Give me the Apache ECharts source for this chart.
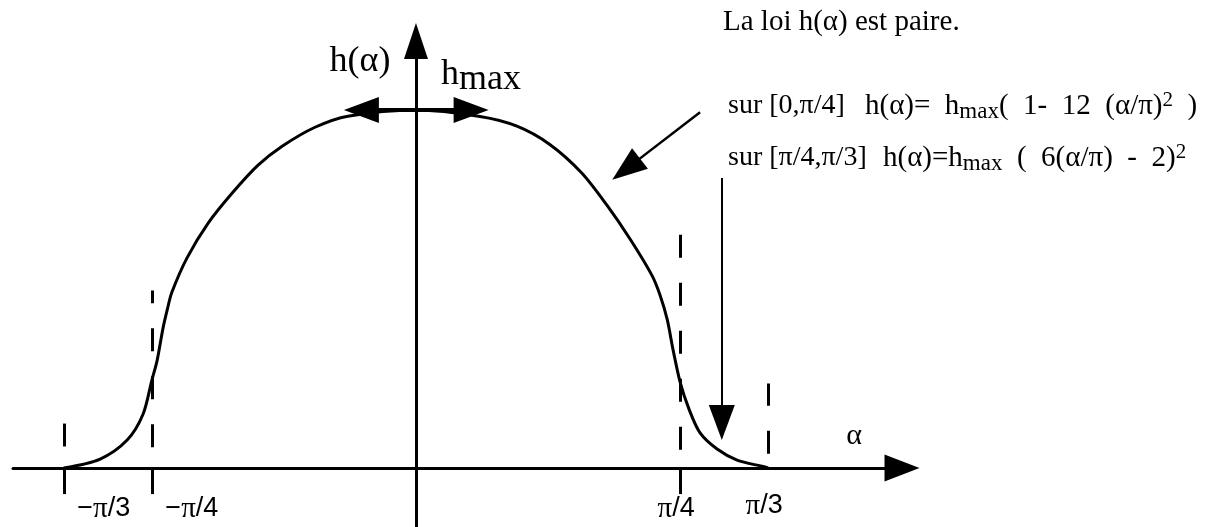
<!DOCTYPE html>
<html>
<head>
<meta charset="utf-8">
<script src="https://cdn.jsdelivr.net/npm/echarts@6/dist/echarts.min.js"></script>
<style>
  html, body { margin: 0; padding: 0; background: #fff; }
  #chart { width: 1206px; height: 527px; }
</style>
</head>
<body>
<div id="chart"></div>
<script>
// Profile h(α) of the cam law, α in degrees (−60 = −π/3, 60 = π/3), h as a fraction of hmax
const alphaDeg = [-60, -53.8, -49.2, -46.5, -45, -44.1, -43.1, -42.4, -41.6, -39, -35.4, -31.3, -26.9, -22.8, -17.2, -11.6, 0,
                  10.9, 17.2, 22.8, 28.2, 32.5, 36.5, 40.2, 41.6, 42.8, 43.8, 45, 46.5, 48.4, 51.3, 54.7, 59.1, 60];
const hRatio   = [0, 0.025, 0.078, 0.15, 0.245, 0.30, 0.39, 0.44, 0.49, 0.587, 0.684, 0.768, 0.846, 0.899, 0.952, 0.983, 1.0,
                  0.982, 0.955, 0.904, 0.825, 0.735, 0.639, 0.538, 0.482, 0.415, 0.33, 0.24, 0.165, 0.098, 0.053, 0.022, 0.004, 0];

// Marks on the α axis
const tickAlpha  = [-60, -45, 45];
const labelAlpha = [-60, -45, 45, 60];
const labelText  = ['−π/3', '−π/4', 'π/4', 'π/3'];

// Dashed guides above ±π/4 and ±π/3 (h range of each guide)
const guideAlpha = [-60, -45, 45, 60];
const guideFrom  = [0.06, 0.058, 0.051, 0.04];
const guideTo    = [0.124, 0.496, 0.658, 0.236];

// Annotation arrows, [α, h] of start and end
const hmaxArrow = [[-9.3, 1.0], [9.4, 1.0]];
const arrowLaw1 = [[48.4, 0.994], [35.8, 0.835]];
const arrowLaw2 = [[52.1, 0.81], [52.1, 0.127]];

const SERIF = '"Liberation Serif", "Times New Roman", serif';
const SANS = '"Liberation Sans", Arial, sans-serif';
const TICK_DEPTH = 0.073;   // tick length below the α axis, in h units

const chart = echarts.init(document.getElementById('chart'), null, { renderer: 'canvas' });

const curve = alphaDeg.map((a, i) => [a, hRatio[i]]);
const guides = guideAlpha.map((a, i) => [{ coord: [a, guideFrom[i]] }, { coord: [a, guideTo[i]] }]);
const ticks = tickAlpha.map(a => [{ coord: [a, 0] }, { coord: [a, -TICK_DEPTH] }]);
const tickLabels = labelAlpha.map((a, i) => ({
  name: labelText[i], coord: [a, 0],
  label: { offset: [a < 0 ? 40 : -4, a === 60 ? 38 : 41] }
}));

function piLabel(p) {
  const parts = p.name.split('π');
  return '{s|' + parts[0] + '}{p|π}{s|' + parts[1] + '}';
}

const sub = { fontSize: 23, fontFamily: SERIF, padding: [12, 0, 0, 0] };
const sup = { fontSize: 21, fontFamily: SERIF, padding: [0, 0, 12, 0] };
const richSub = { rich: { sub: sub, sup: sup } };

function txt(x, y, text, size, extra) {
  return {
    type: 'text', x: x, y: y, silent: true,
    style: Object.assign({ text: text, fill: '#000', font: size + 'px ' + SERIF, align: 'left', verticalAlign: 'middle' }, extra || {})
  };
}

chart.setOption({
  animation: false,
  backgroundColor: '#fff',
  grid: { left: 13, right: 304, top: 41, bottom: 0, containLabel: false, outerBoundsMode: 'none' },
  xAxis: {
    type: 'value', min: -68.65, max: 82.8,
    splitLine: { show: false },
    axisLine: { onZero: true, symbol: ['none', 'triangle'], symbolSize: [27, 35], lineStyle: { color: '#000', width: 3 } },
    axisTick: { show: false },
    axisLabel: { show: false }
  },
  yAxis: {
    type: 'value', min: -0.165, max: 1.193,
    splitLine: { show: false },
    axisLine: { onZero: true, symbol: ['none', 'triangle'], symbolSize: [24, 36], lineStyle: { color: '#000', width: 3 } },
    axisTick: { show: false },
    axisLabel: { show: false }
  },
  series: [
    {
      name: 'h(α)', type: 'line', data: curve, smooth: 0.3, showSymbol: false, silent: true,
      lineStyle: { color: '#000', width: 3 },
      markLine: {
        silent: true, symbol: ['none', 'none'], label: { show: false },
        lineStyle: { color: '#000', width: 3, type: [23, 25] },
        data: guides
      }
    },
    {
      name: 'graduations', type: 'line', data: [], silent: true,
      markLine: {
        silent: true, symbol: ['none', 'none'], label: { show: false },
        lineStyle: { color: '#000', width: 3, type: 'solid' },
        data: ticks
      },
      markPoint: {
        silent: true, symbol: 'circle', symbolSize: 0,
        label: {
          show: true, position: 'inside', formatter: piLabel, color: '#000',
          rich: {
            s: { fontFamily: SANS, fontSize: 27, color: '#000' },
            p: { fontFamily: SERIF, fontSize: 29, color: '#000' }
          }
        },
        data: tickLabels
      }
    },
    {
      name: 'hmax', type: 'line', data: [], silent: true,
      markLine: {
        silent: true, symbol: ['triangle', 'triangle'], symbolSize: [26, 35], label: { show: false },
        lineStyle: { color: '#000', width: 4, type: 'solid' },
        data: [[{ coord: hmaxArrow[0] }, { coord: hmaxArrow[1] }]]
      }
    },
    {
      name: 'renvois', type: 'line', data: [], silent: true,
      markLine: {
        silent: true, symbol: ['none', 'triangle'], symbolSize: [26, 35], label: { show: false },
        lineStyle: { color: '#000', width: 2.5, type: 'solid' },
        data: [
          [{ coord: arrowLaw1[0] }, { coord: arrowLaw1[1] }],
          [{ coord: arrowLaw2[0] }, { coord: arrowLaw2[1], lineStyle: { width: 2 } }]
        ]
      }
    }
  ],
  graphic: [
    txt(360, 62, 'h(α)', 36, { align: 'center' }),
    txt(441, 75, '{h|h}{m|max}', 36, { rich: { h: { fontSize: 36, fontFamily: SERIF }, m: { fontSize: 36, fontFamily: SERIF, padding: [10, 0, 0, 0] } } }),
    txt(854, 436, 'α', 30, { align: 'center' }),
    txt(723, 22, 'La loi h(α) est paire.', 29),
    txt(728, 106, 'sur [0,π/4]', 28),
    txt(865, 106, 'h(α)=  h{sub|max}(  1-  12  (α/π){sup|2}  )', 29, richSub),
    txt(728, 158, 'sur [π/4,π/3]', 28),
    txt(883, 158, 'h(α)=h{sub|max}  (  6(α/π)  -  2){sup|2}', 29, richSub)
  ]
});
</script>
</body>
</html>
